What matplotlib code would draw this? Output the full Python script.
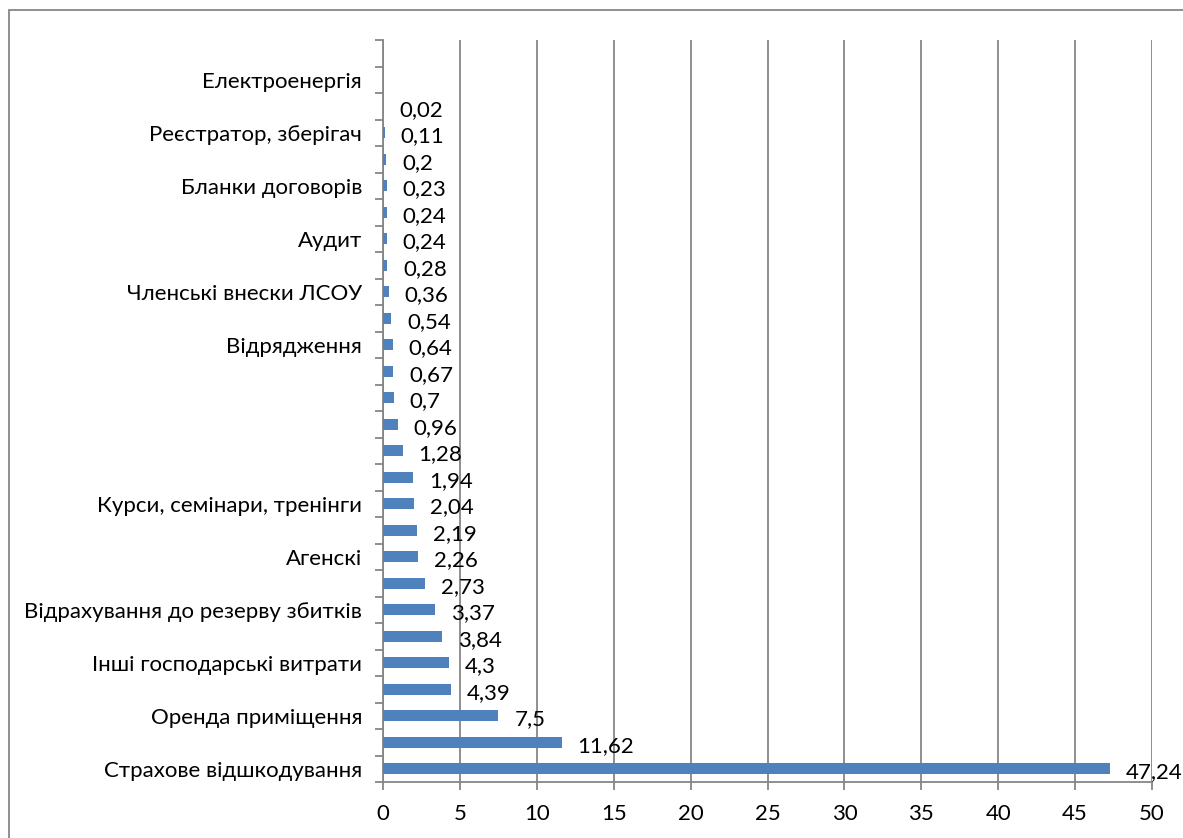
import matplotlib
matplotlib.use("Agg")
import matplotlib.pyplot as plt
import numpy as np
from matplotlib.patches import Rectangle

# Data (bottom to top)
categories = [
    "Страхове відшкодування", "", "Оренда приміщення", "", "Інші господарські витрати", "",
    "Відрахування до резерву збитків", "", "Агенскі", "", "Курси, семінари, тренінги", "",
    "", "", "", "", "Відрядження", "", "Членські внески ЛСОУ", "", "Аудит", "",
    "Бланки договорів", "", "Реєстратор, зберігач", "", "Електроенергія", "",
]
values = [47.24, 11.62, 7.5, 4.39, 4.3, 3.84, 3.37, 2.73, 2.26, 2.19, 2.04, 1.94, 1.28,
          0.96, 0.7, 0.67, 0.64, 0.54, 0.36, 0.28, 0.24, 0.24, 0.23, 0.2, 0.11, 0.02,
          np.nan, np.nan]
x_ticks = [0, 5, 10, 15, 20, 25, 30, 35, 40, 45, 50]

W, H = 1183, 838
FS = 16
plt.rcParams['font.family'] = ['Lato', 'DejaVu Sans']
fig = plt.figure(figsize=(W / 100, H / 100), dpi=100)
ax = fig.add_axes([383 / W, 1 - 782 / H, (1152 - 383) / W, (782 - 40) / H])

grid_c = '#868686'
pos = np.arange(len(values))
ax.barh(pos, np.nan_to_num(values), height=0.42, color='#4F81BD', zorder=3)

for p, v in zip(pos, values):
    if np.isnan(v):
        continue
    ax.annotate(f"{v:g}".replace('.', ','), (v, p), xytext=(11.5, -2.5),
                textcoords='offset points', ha='left', va='center', fontsize=FS,
                color='black', zorder=4)

ax.set_xlim(0, 50)
ax.set_ylim(-0.5, len(values) - 0.5)
ax.set_xticks(x_ticks)
ax.set_xticklabels([str(t) for t in x_ticks], fontsize=FS)
ax.xaxis.grid(True, color=grid_c, linewidth=1.3, zorder=0)
ax.tick_params(axis='x', direction='out', length=6, width=1.3, color=grid_c, pad=10)

ax.set_yticks(np.arange(-0.5, len(values), 1.0))
ax.set_yticklabels([])
ax.set_yticks(pos, minor=True)
ax.set_yticklabels(categories, minor=True, fontsize=FS)
ax.tick_params(axis='y', which='major', direction='out', length=6, width=1.3, color=grid_c)
ax.tick_params(axis='y', which='minor', length=0, pad=15)

for s in ['top', 'right']:
    ax.spines[s].set_visible(False)
for s in ['left', 'bottom']:
    ax.spines[s].set_color(grid_c)
    ax.spines[s].set_linewidth(1.3)

# Outer chart border (partially cropped)
fig.patches.append(Rectangle((9 / W, -0.1), 1.2, 1 - 10 / H + 0.1, transform=fig.transFigure,
                             fill=False, edgecolor=grid_c, linewidth=1.3))

fig.savefig('out.png', dpi=100)
